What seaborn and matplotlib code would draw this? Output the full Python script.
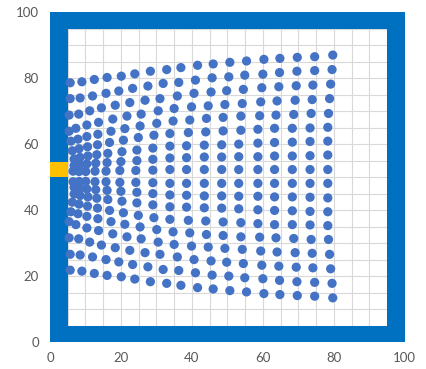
import numpy as np
import pandas as pd
import matplotlib
matplotlib.use('Agg')
import matplotlib.pyplot as plt
from matplotlib.patches import Rectangle
import seaborn as sns

# x positions of the dots, rows 0..8 (top half); bottom half mirrors them
x_upper = [
    [5.7, 9.0, 12.5, 16.1, 20.1, 23.9, 28.3, 32.9, 36.9, 41.6, 46.0, 50.7, 55.4, 60.3, 64.8, 69.7, 74.6, 79.7],
    [5.7, 8.5, 12.0, 15.8, 19.4, 23.3, 27.6, 31.9, 36.3, 41.0, 45.7, 50.4, 54.9, 60.0, 64.7, 69.6, 74.6, 79.5],
    [5.4, 8.1, 11.2, 14.5, 18.4, 22.5, 26.8, 31.0, 35.9, 40.6, 45.4, 49.8, 54.5, 59.7, 64.5, 69.4, 74.1, 79.1],
    [5.4, 7.3, 10.4, 13.7, 17.7, 21.7, 25.7, 30.5, 35.0, 39.9, 44.6, 49.3, 54.2, 59.4, 64.0, 69.1, 73.9, 78.8],
    [5.9, 7.9, 10.4, 13.5, 17.2, 21.1, 25.4, 30.1, 34.7, 39.4, 44.1, 48.8, 53.8, 59.1, 63.7, 68.7, 73.6, 78.5],
    [6.3, 8.2, 10.6, 13.4, 16.8, 20.7, 24.9, 29.3, 33.8, 39.0, 43.9, 48.8, 53.8, 58.6, 63.3, 68.3, 73.3, 78.3],
    [6.8, 8.5, 10.7, 13.2, 16.3, 20.3, 24.5, 29.0, 33.8, 38.5, 43.5, 48.4, 53.2, 58.6, 63.3, 68.3, 73.3, 78.3],
    [6.8, 8.5, 10.4, 12.9, 16.1, 20.0, 24.5, 29.0, 33.8, 38.5, 43.5, 48.4, 53.2, 58.6, 63.3, 68.3, 73.3, 78.3],
    [6.5, 8.2, 10.1, 12.7, 15.8, 19.7, 24.2, 29.0, 33.8, 38.5, 43.5, 48.4, 53.2, 58.6, 63.3, 68.3, 73.3, 78.3],
]
x_rows = x_upper + x_upper[::-1]

y_rows = [
    [78.6, 78.9, 79.6, 80.2, 80.6, 81.3, 82.1, 82.6, 83.2, 83.9, 84.3, 84.8, 85.2, 85.7, 86.0, 86.3, 86.5, 87.0],
    [73.8, 74.0, 74.6, 75.4, 76.1, 76.9, 77.6, 78.4, 78.7, 79.4, 80.1, 80.4, 80.9, 81.2, 81.7, 82.1, 82.3, 82.6],
    [68.8, 69.1, 70.1, 71.0, 71.8, 72.6, 73.3, 73.8, 74.6, 75.4, 75.8, 76.2, 76.6, 77.1, 77.4, 77.7, 77.9, 78.2],
    [63.9, 64.8, 65.8, 66.6, 67.6, 68.5, 69.1, 70.1, 70.8, 71.3, 71.6, 72.0, 72.3, 72.8, 73.1, 73.3, 73.5, 73.8],
    [60.9, 61.5, 62.3, 63.0, 63.9, 64.7, 65.5, 66.3, 67.0, 67.3, 67.8, 68.1, 68.5, 68.6, 68.8, 69.0, 69.3, 69.3],
    [58.0, 58.6, 59.2, 59.8, 60.5, 61.2, 62.0, 62.7, 63.2, 63.5, 63.7, 64.0, 64.2, 64.5, 64.8, 64.8, 64.9, 65.1],
    [55.5, 56.0, 56.4, 56.8, 57.2, 57.7, 58.2, 58.8, 59.4, 59.5, 59.7, 59.8, 60.0, 60.3, 60.5, 60.6, 60.8, 60.9],
    [53.5, 53.8, 54.0, 54.2, 54.4, 54.7, 55.0, 55.4, 55.8, 55.9, 56.1, 56.1, 56.2, 56.2, 56.4, 56.4, 56.5, 56.7],
    [51.8, 51.7, 51.7, 51.8, 51.8, 52.0, 52.0, 52.1, 52.3, 52.3, 52.3, 52.3, 52.3, 52.3, 52.3, 52.3, 52.3, 52.3],
    [48.6, 48.7, 48.7, 48.6, 48.6, 48.4, 48.4, 48.3, 48.1, 48.1, 48.1, 48.1, 48.1, 48.1, 48.1, 48.1, 48.1, 48.1],
    [46.9, 46.6, 46.4, 46.2, 46.0, 45.7, 45.4, 45.0, 44.6, 44.5, 44.3, 44.3, 44.2, 44.2, 44.0, 44.0, 43.9, 43.7],
    [44.9, 44.4, 44.0, 43.6, 43.2, 42.7, 42.2, 41.6, 41.0, 40.9, 40.7, 40.6, 40.4, 40.1, 39.9, 39.8, 39.6, 39.5],
    [42.4, 41.8, 41.2, 40.6, 39.9, 39.2, 38.4, 37.7, 37.2, 36.9, 36.7, 36.4, 36.2, 35.9, 35.6, 35.6, 35.5, 35.3],
    [39.5, 38.9, 38.1, 37.4, 36.5, 35.7, 34.9, 34.1, 33.4, 33.1, 32.6, 32.3, 31.9, 31.8, 31.6, 31.4, 31.1, 31.1],
    [36.5, 35.6, 34.6, 33.8, 32.8, 31.9, 31.3, 30.3, 29.6, 29.1, 28.8, 28.4, 28.1, 27.6, 27.3, 27.1, 26.9, 26.6],
    [31.6, 31.3, 30.3, 29.4, 28.6, 27.8, 27.1, 26.6, 25.8, 25.0, 24.6, 24.2, 23.8, 23.3, 23.0, 22.7, 22.5, 22.2],
    [26.6, 26.4, 25.8, 25.0, 24.3, 23.5, 22.8, 22.0, 21.7, 21.0, 20.3, 20.0, 19.5, 19.2, 18.7, 18.3, 18.1, 17.8],
    [21.8, 21.5, 20.8, 20.2, 19.8, 19.1, 18.3, 17.8, 17.2, 16.5, 16.1, 15.6, 15.2, 14.7, 14.4, 14.1, 13.9, 13.4],
]

ticks = [0, 20, 40, 60, 80, 100]

# walls of the box and the source
wall_thick = 5
source_y = (50, 54.5)

df = pd.DataFrame({
    'x': np.concatenate(x_rows),
    'y': np.concatenate(y_rows),
})

sns.set_style('white')
plt.rcParams['font.family'] = ['Lato', 'DejaVu Sans']

fig = plt.figure(figsize=(4.27, 3.69), dpi=100)
ax = fig.add_axes([0.117, 0.073, 0.831, 0.894])

# walls
blue = '#0070C0'
ax.add_patch(Rectangle((0, 0), wall_thick, 100, color=blue, lw=0, zorder=2))
ax.add_patch(Rectangle((100 - wall_thick, 0), wall_thick, 100, color=blue, lw=0, zorder=2))
ax.add_patch(Rectangle((0, 0), 100, wall_thick, color=blue, lw=0, zorder=2))
ax.add_patch(Rectangle((0, 100 - wall_thick), 100, wall_thick, color=blue, lw=0, zorder=2))
ax.add_patch(Rectangle((0, source_y[0]), wall_thick, source_y[1] - source_y[0],
                       color='#FFC000', lw=0, zorder=2.5))

sns.scatterplot(data=df, x='x', y='y', color='#4472C4', s=44, edgecolor='none',
                linewidth=0, ax=ax, zorder=3)

ax.set_xlim(0, 100)
ax.set_ylim(0, 100)
ax.set_xticks(ticks)
ax.set_yticks(ticks)
ax.set_xticks(np.arange(0, 101, 5), minor=True)
ax.set_yticks(np.arange(0, 101, 5), minor=True)
ax.grid(which='both', color='#D9D9D9', lw=0.8)
ax.set_axisbelow(True)
ax.tick_params(which='both', length=0, labelsize=9.5, labelcolor='#595959')
ax.tick_params(axis='x', pad=7)
ax.tick_params(axis='y', pad=8)
ax.set_xlabel('')
ax.set_ylabel('')
for sp in ax.spines.values():
    sp.set_visible(False)

fig.savefig('out.png', dpi=100)
